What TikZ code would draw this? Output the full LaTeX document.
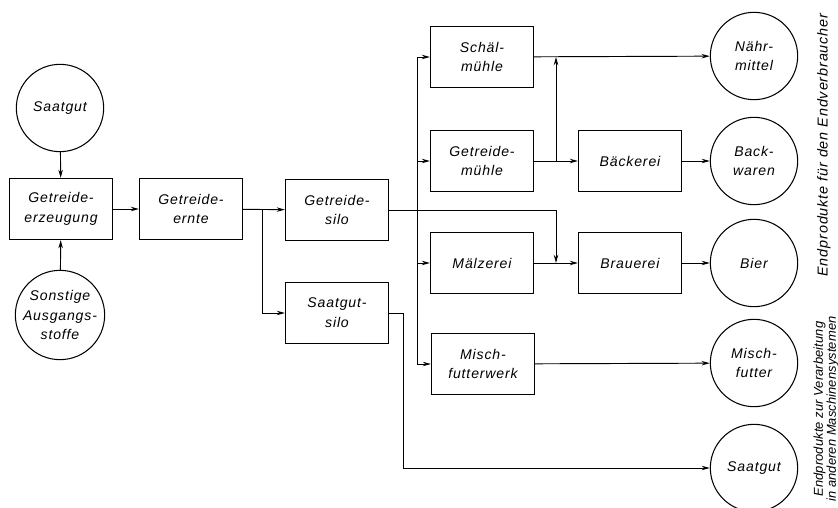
\documentclass[tikz,border=0pt]{standalone}
\usepackage{fontspec}
\setmainfont{Liberation Sans}[LetterSpace=6]
\newfontfamily\sidefont{Liberation Sans}[LetterSpace=1]
\usepackage{tikz}
\usetikzlibrary{arrows.meta}
\tikzset{
  box/.style={draw, line width=1pt, minimum width=3.09cm, minimum height=1.83cm, align=center, inner sep=1pt},
  ring/.style={draw, circle, line width=0.9pt, minimum size=2.62cm, align=center, inner sep=0pt},
  flow/.style={line width=0.8pt, -{Stealth[length=7pt,width=3.8pt]}},
  side/.style={rotate=90, align=center, font=\itshape\fontsize{12.3}{11}\selectfont},
  every node/.style={font=\itshape\fontsize{12}{17}\selectfont}
}
\begin{document}
\begin{tikzpicture}[x=0.03cm, y=-0.03cm]
  \useasboundingbox (0,0) rectangle (838,508);

  % Ausgangsstoffe und Erzeugung
  \node[ring] (saat1) at (60,108) {Saatgut};
  \node[ring] (sonst) at (60,315) {Sonstige\\Ausgangs-\\stoffe};
  \node[box] (erz) at (61,209) {Getreide-\\erzeugung};
  \node[box] (ernte) at (191,209) {Getreide-\\ernte};
  \node[box] (gsilo) at (337,210) {Getreide-\\silo};
  \node[box] (ssilo) at (337,313) {Saatgut-\\silo};

  % Verarbeitung
  \node[box] (schael) at (482,57) {Schäl-\\mühle};
  \node[box] (gmuehle) at (482,161) {Getreide-\\mühle};
  \node[box] (maelz) at (482,263) {Mälzerei};
  \node[box] (misch) at (483,364) {Misch-\\futterwerk};
  \node[box] (baeck) at (630,161) {Bäckerei};
  \node[box] (brau) at (630,263) {Brauerei};

  % Endprodukte
  \node[ring] (naehr) at (754,56) {Nähr-\\mittel};
  \node[ring] (backw) at (754,161) {Back-\\waren};
  \node[ring] (bier) at (754,263) {Bier};
  \node[ring] (mfut) at (754,363) {Misch-\\futter};
  \node[ring] (saat2) at (754,468) {Saatgut};

  \node[side] (endv) at (824,145) {Endprodukte für den Endverbraucher};
  \node[side, font=\sidefont\itshape\fontsize{11}{11}\selectfont] (endm) at (826,409) {Endprodukte zur Verarbeitung\\in anderen Maschinensystemen};

  % Verzweigungen
  \coordinate (b1) at (262,209);
  \coordinate (b2) at (417,210);
  \coordinate (b4) at (556,161);
  \coordinate (jn) at (556,57);
  \coordinate (jb) at (556,263);
  \coordinate (b5) at (403,468);

  \draw[flow] (saat1) -- (erz);
  \draw[flow] (sonst) -- (erz);
  \draw[flow] (erz) -- (ernte);
  \draw[flow] (ernte) -- (gsilo);
  \draw[flow] (b1) |- (ssilo.west);

  \draw[flow] (gsilo.east) -| (jb);
  \draw[flow] (b2) |- (schael.west);
  \draw[flow] (b2) |- (gmuehle.west);
  \draw[flow] (b2) |- (maelz.west);
  \draw[flow] (b2) |- (misch.west);

  \draw[flow] (schael) -- (naehr);
  \draw[flow] (gmuehle) -- (baeck);
  \draw[flow] (b4) -- (jn);
  \draw[flow] (baeck) -- (backw);
  \draw[flow] (maelz) -- (brau);
  \draw[flow] (brau) -- (bier);
  \draw[flow] (misch) -- (mfut);
  \draw[flow] (ssilo.east) -| (b5) -- (saat2.west);
\end{tikzpicture}
\end{document}
